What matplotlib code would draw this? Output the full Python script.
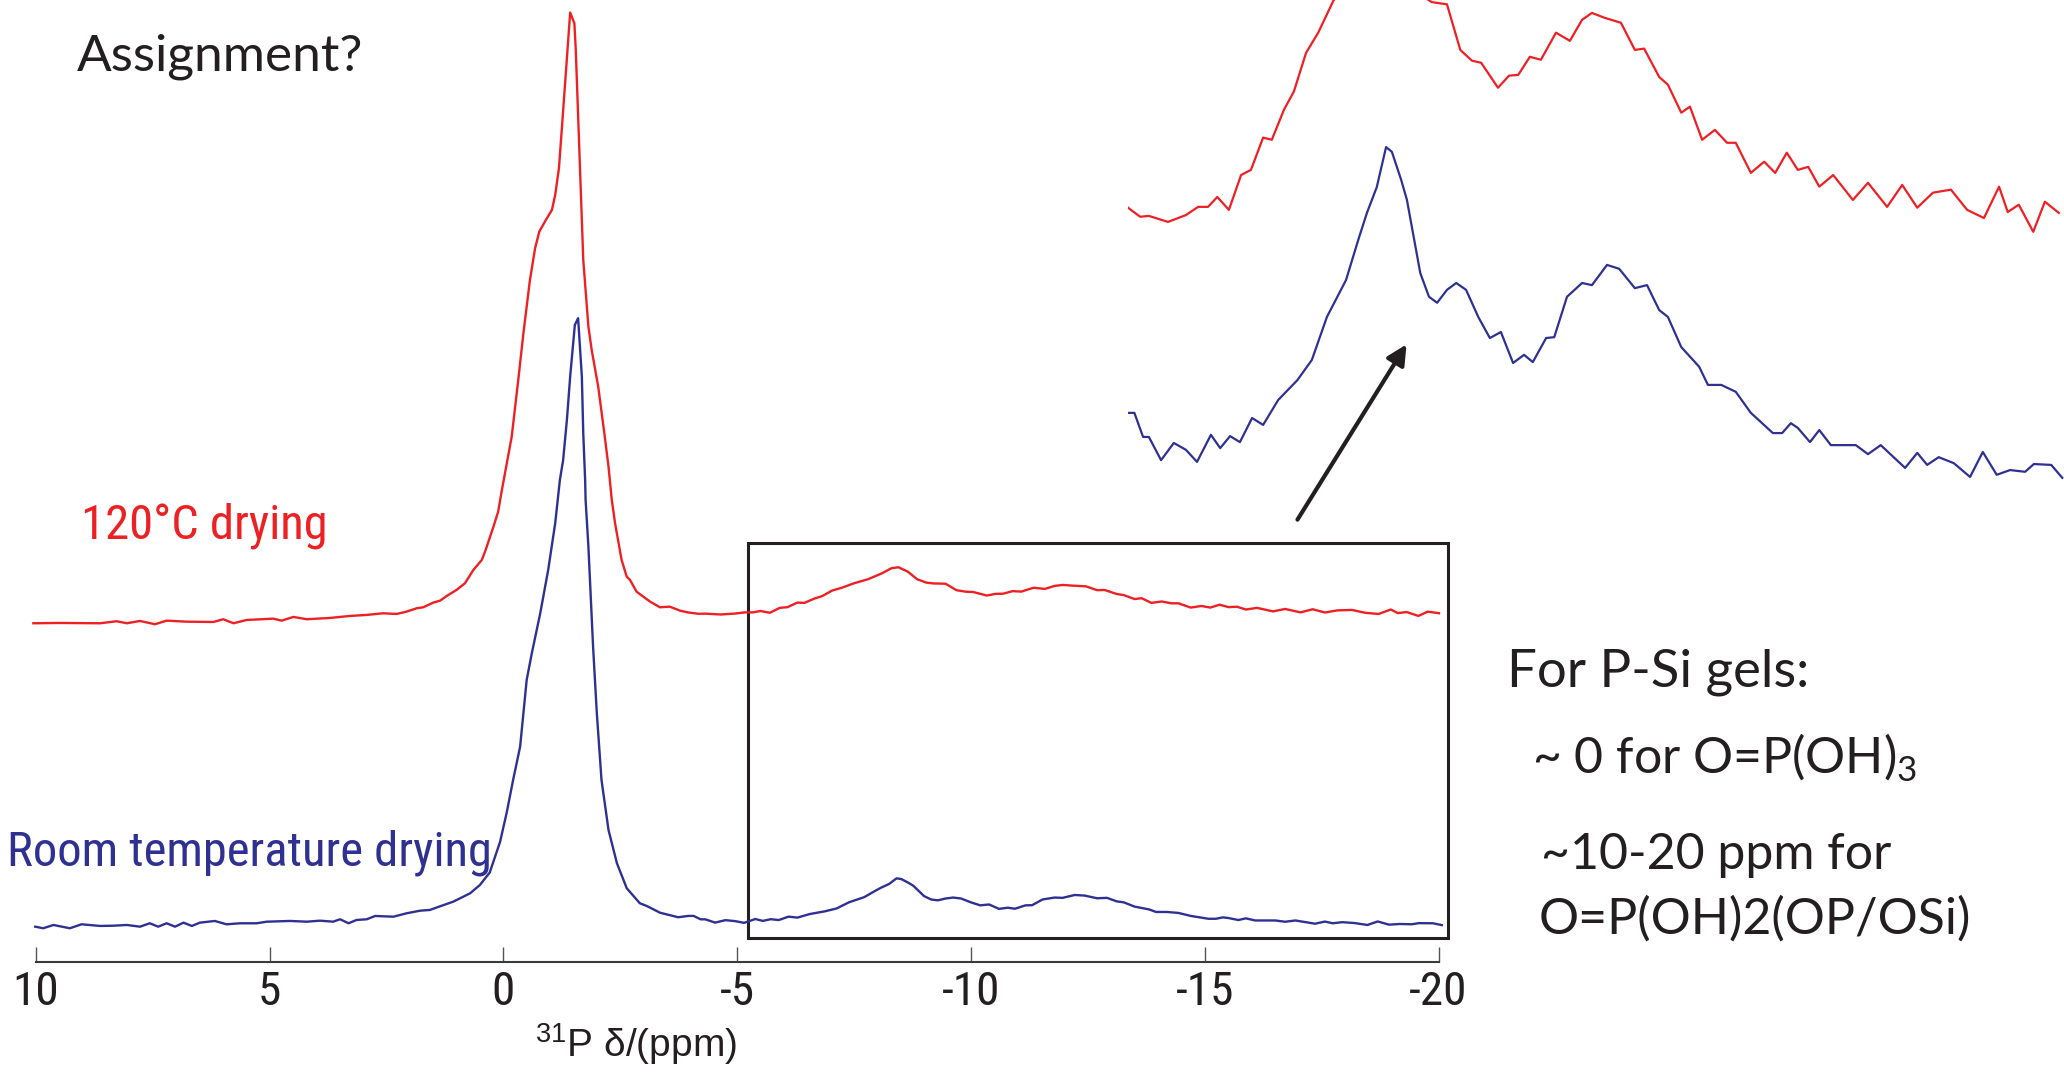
import matplotlib
matplotlib.use("Agg")
import matplotlib.pyplot as plt
from matplotlib import font_manager
from matplotlib.font_manager import FontProperties
from matplotlib.patches import Rectangle, FancyArrowPatch


# ----------------------------
# Data (31P shift in ppm, intensity with blue main peak = 100)
# ----------------------------

ppm_120c = [
    10.05, 9.48, 8.62, 8.27, 8.05, 7.77, 7.45, 7.20, 6.77, 6.20, 5.99, 5.77, 5.49,
    4.92, 4.74, 4.49, 4.20, 3.71, 3.28, 2.92, 2.57, 2.28, 2.07, 1.85, 1.71, 1.50,
    1.35, 1.21, 1.00, 0.82, 0.64, 0.46, 0.39, 0.21, 0.11, 0.03, -0.18, -0.32,
    -0.43, -0.57, -0.68, -0.77, -0.89, -1.04, -1.11, -1.19, -1.25, -1.36, -1.43,
    -1.52, -1.55, -1.64, -1.71, -1.77, -1.82, -1.89, -2.03, -2.17, -2.25, -2.32,
    -2.39, -2.53, -2.64, -2.71, -2.85, -3.14, -3.35, -3.56, -3.78,
    -3.96, -4.17, -4.32, -4.65, -4.96, -5.17, -5.34, -5.50, -5.70, -5.91, -6.08,
    -6.29, -6.44, -6.65, -6.82, -7.03, -7.24, -7.50, -7.80, -8.10, -8.30, -8.45,
    -8.65, -8.85, -9.05, -9.20, -9.46, -9.69, -9.89, -10.05, -10.34, -10.53,
    -10.69, -10.89, -11.08, -11.34, -11.58, -11.79, -11.96, -12.17, -12.46,
    -12.70, -12.86, -13.12, -13.27, -13.50, -13.65, -13.86, -14.08, -14.29,
    -14.44, -14.70, -14.93, -15.12, -15.32, -15.51, -15.69, -15.88, -16.12,
    -16.46, -16.72, -17.05, -17.31, -17.57, -17.84, -18.15, -18.43, -18.72,
    -18.98, -19.13, -19.32, -19.57, -19.77, -20.01,
]
int_120c = [
    0.0, 0.05, 0.0, 0.33, 0.0, 0.38, -0.16, 0.43, 0.26, 0.21, 0.66, 0.0, 0.54,
    0.76, 0.43, 1.04, 0.66, 0.87, 1.20, 1.37, 1.64, 1.53, 1.91, 2.47, 2.63, 3.39,
    3.72, 4.49, 5.48, 6.58, 8.77, 10.41, 11.78, 15.89, 18.36, 21.92, 30.69, 40.02,
    47.70, 56.46, 61.68, 64.41, 66.05, 67.98, 70.44, 74.84, 81.13, 92.93, 100.43,
    98.68, 94.29, 75.10, 59.75, 53.72, 48.78, 44.95, 38.91, 30.69, 25.76, 20.28,
    16.45, 10.41, 7.66, 7.12, 5.20, 3.55, 2.63, 2.73, 2.07,
    1.77, 1.56, 1.58, 1.44, 1.60, 1.79, 1.79, 2.02, 1.72, 2.53, 2.65,
    3.40, 3.35, 4.05, 4.47, 5.37, 5.84, 6.58, 7.24, 8.22, 9.05, 9.21,
    8.49, 7.24, 6.68, 6.55, 6.50, 5.44, 5.19, 5.14, 4.56, 4.84,
    4.86, 5.28, 5.21, 5.84, 5.65, 6.14, 6.30, 6.19, 6.07,
    5.44, 5.47, 4.81, 4.63, 3.98, 4.12, 3.35, 3.58, 3.28,
    3.28, 2.58, 2.84, 2.58, 3.05, 2.65, 2.72, 2.26, 2.53,
    1.95, 2.35, 1.79, 2.30, 1.77, 2.12, 2.19, 1.72, 1.53,
    2.26, 1.67, 1.84, 1.21, 1.91, 1.65,
]

ppm_rt = [
    10.01, 9.84, 9.62, 9.27, 9.02, 8.62, 8.34, 8.05, 7.77, 7.56, 7.38, 7.20, 7.02,
    6.84, 6.66, 6.49, 6.17, 5.92, 5.63, 5.27, 5.06, 4.56, 4.20, 3.92, 3.64, 3.49,
    3.31, 3.14, 2.92, 2.74, 2.35, 2.07, 1.78, 1.57, 1.35, 1.07, 0.71, 0.50, 0.29,
    0.07, -0.07, -0.21, -0.36, -0.50, -0.61, -0.79, -0.96, -1.11, -1.21, -1.28,
    -1.36, -1.43, -1.53, -1.60, -1.68, -1.71, -1.75, -1.76, -1.82, -1.92, -2.00,
    -2.10, -2.25, -2.43, -2.64, -2.92, -3.07, -3.35, -3.74,
    -3.96, -4.07, -4.22, -4.32, -4.53, -4.75, -4.96, -5.15, -5.39, -5.55, -5.72,
    -5.89, -6.10, -6.29, -6.55, -6.88, -7.13, -7.39, -7.72, -7.93, -8.08, -8.25,
    -8.41, -8.51, -8.67, -8.77, -9.00, -9.15, -9.29, -9.46, -9.62, -9.79, -10.00,
    -10.20, -10.39, -10.60, -10.79, -10.94, -11.17, -11.31, -11.53, -11.79,
    -11.96, -12.22, -12.43, -12.70, -12.91, -13.12, -13.27, -13.50, -13.81,
    -13.96, -14.19, -14.44, -14.70, -15.08, -15.24, -15.39, -15.51, -15.72,
    -15.88, -16.08, -16.51, -16.72, -16.94, -17.36, -17.57, -17.74, -17.94,
    -18.20, -18.48, -18.70, -18.94, -19.17, -19.43, -19.58, -19.88, -20.07,
]
int_rt = [
    0.0, -0.26, 0.28, -0.26, 0.39, 0.12, 0.16, 0.28, 0.0, 0.56, 0.0, 0.56, 0.0,
    0.66, 0.12, 0.66, 0.94, 0.39, 0.56, 0.56, 0.82, 0.94, 0.82, 0.99, 0.82, 1.22,
    0.56, 1.10, 1.22, 1.76, 1.64, 2.20, 2.63, 2.75, 3.36, 4.11, 5.49, 6.86, 8.91,
    13.93, 18.65, 24.13, 29.61, 40.58, 44.97, 51.55, 58.67, 66.35, 73.47, 76.76,
    83.34, 90.46, 98.96, 100.07, 90.46, 81.15, 73.47, 70.18, 62.50, 46.05, 35.10,
    24.13, 15.90, 10.43, 6.32, 3.85, 3.40, 2.30, 1.55,
    1.77, 1.77, 1.21, 1.21, 0.67, 1.07, 0.91, 0.63, 1.26, 0.95, 1.23,
    1.09, 1.65, 1.49, 2.07, 2.53, 3.00, 4.00, 4.86, 5.79, 6.42, 7.02,
    7.95, 7.84, 7.19, 6.72, 5.02, 4.47, 4.33, 4.63, 4.79, 4.63, 4.00,
    3.51, 3.65, 2.93, 3.12, 2.95, 3.51, 3.53, 4.47, 4.79,
    4.74, 5.21, 5.12, 4.67, 4.74, 4.16, 4.00, 3.30, 2.84,
    2.42, 2.42, 2.26, 1.77, 1.30, 1.30, 1.53, 1.42, 1.09,
    1.37, 1.02, 1.02, 0.81, 1.02, 0.49, 0.84, 0.56, 0.74,
    0.60, 0.28, 0.86, 0.33, 0.44, 0.40, 0.58, 0.56, 0.26,
]

tick_values = [10, 5, 0, -5, -10, -15, -20]
tick_labels = ["10", "5", "0", "-5", "-10", "-15", "-20"]

label_120c = "120°C drying"
label_rt = "Room temperature drying"
notes = ["For P-Si gels:", "~ 0 for O=P(OH)$_\\mathregular{3}$",
         "~10-20 ppm for", "O=P(OH)2(OP/OSi)"]


# ----------------------------
# Fonts / style
# ----------------------------

RED = "#ED2024"
BLUE = "#2E3192"
INK = "#231F20"

W, H = 2064, 1080


def pick_font(*names):
    for name in names:
        try:
            font_manager.findfont(FontProperties(family=name),
                                  fallback_to_default=False)
            return name
        except ValueError:
            pass
    return "DejaVu Sans"


def narrow_font():
    # look for an Arial-Narrow-like face among the installed files
    prefs = ["liberationsansnarrow-regular", "liberation sans narrow",
             "robotocondensed-regular", "dejavusanscondensed.", "condensed",
             "narrow"]
    files = [(f.name, f.fname) for f in font_manager.fontManager.ttflist
             if f.weight in (400, "normal", "regular") and f.style == "normal"]
    for p in prefs:
        for name, fname in files:
            key = (name + " " + fname).lower().replace("_", "")
            if p in key or p in fname.lower().replace("-", "").replace("_", ""):
                return FontProperties(fname=fname), 1.0
    return FontProperties(family=pick_font("Liberation Sans")), 0.86


HELV = pick_font("Liberation Sans", "DejaVu Sans")
HUMAN = pick_font("Lato", "Open Sans", "DejaVu Sans")
NARROW, NSCALE = narrow_font()


def narrow(size):
    fp = NARROW.copy()
    fp.set_size(size * NSCALE)
    return fp


def fx(px):
    return px / W


def fy(py):
    return 1 - py / H


fig = plt.figure(figsize=(W / 100, H / 100), dpi=100)

# ---------------- MAIN SPECTRA ----------------
ax = fig.add_axes([fx(35.7), fy(961.7), 1402.8 / W, 961.7 / H])
ax.set_xlim(10, -20)
ax.set_ylim(-5.76, 152.4)

red_offset = 49.9
ax.plot(ppm_120c, [v + red_offset for v in int_120c], color=RED, lw=1.7,
        clip_on=False)
ax.plot(ppm_rt, int_rt, color=BLUE, lw=1.7, clip_on=False)

ax.add_patch(Rectangle((-5.24, -1.91), -14.96, 64.97, fill=False,
                       ec=INK, lw=2.2, clip_on=False))

for side in ("left", "top", "right"):
    ax.spines[side].set_visible(False)
ax.spines["bottom"].set_color("#3a3a3a")
ax.spines["bottom"].set_linewidth(1.5)
ax.set_yticks([])
ax.set_xticks(tick_values)
ax.set_xticklabels(tick_labels, fontproperties=narrow(34), color=INK)
ax.tick_params(axis="x", direction="in", length=10.8, width=1.0,
               color="#555555", pad=6)

# ---------------- EXPANDED REGION ----------------
inset = fig.add_axes([fx(1128), fy(500), 936 / W, 500 / H])
inset.set_xlim(-3.96, -20.1)
inset.set_ylim(-0.256, 11.37)
inset.axis("off")
inset_offset = 4.77
inset.plot(ppm_120c, [v + inset_offset for v in int_120c], color=RED, lw=1.6)
inset.plot(ppm_rt, int_rt, color=BLUE, lw=1.6)

arrow = FancyArrowPatch((fx(1296), fy(522)), (fx(1408), fy(342)),
                        transform=fig.transFigure, arrowstyle="-|>",
                        mutation_scale=30, lw=3, color=INK)
fig.add_artist(arrow)

# ---------------- TEXT ----------------
fig.text(fx(77), fy(70), "Assignment?", fontfamily=HUMAN, fontsize=37,
         color=INK, va="baseline")
fig.text(fx(81), fy(538), label_120c, fontproperties=narrow(35),
         color=RED, va="baseline")
fig.text(fx(7), fy(865), label_rt, fontproperties=narrow(35),
         color=BLUE, va="baseline")
fig.text(fx(535), fy(1057), "$^\\mathregular{31}$P δ/(ppm)", fontfamily=HELV,
         fontsize=28, color=INK, va="baseline")

note_pos = [(1507, 686), (1532, 774), (1541, 869), (1539, 934)]
note_size = [38, 36, 36, 36]
for txt, (px, py), fs in zip(notes, note_pos, note_size):
    fig.text(fx(px), fy(py), txt, fontfamily=HUMAN, fontsize=fs, color=INK,
             va="baseline")

fig.savefig("out.png", dpi=100)
